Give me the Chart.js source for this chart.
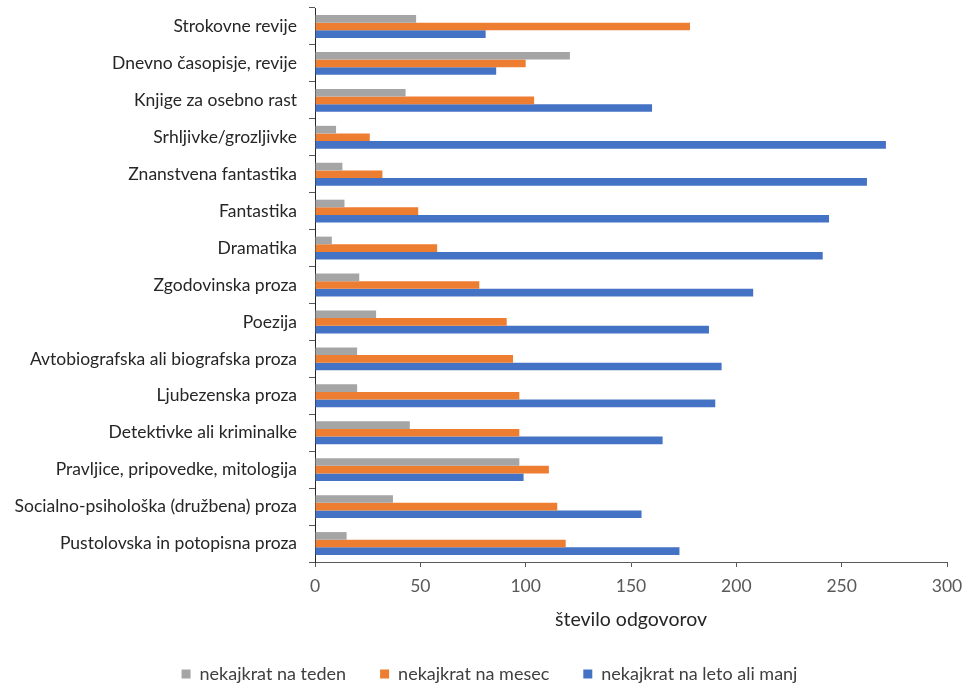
<!DOCTYPE html>
<html>
<head>
<meta charset="utf-8">
<script src="https://cdn.jsdelivr.net/npm/chart.js@4/dist/chart.umd.min.js"></script>
<style>
  html, body { margin: 0; padding: 0; background: #fff; }
  #wrap { width: 967px; height: 685px; }
</style>
</head>
<body>
<div id="wrap"><canvas id="myChart" width="967" height="685"></canvas></div>
<script>
const zvrsti = [
    "Strokovne revije",
    "Dnevno časopisje, revije",
    "Knjige za osebno rast",
    "Srhljivke/grozljivke",
    "Znanstvena fantastika",
    "Fantastika",
    "Dramatika",
    "Zgodovinska proza",
    "Poezija",
    "Avtobiografska ali biografska proza",
    "Ljubezenska proza",
    "Detektivke ali kriminalke",
    "Pravljice, pripovedke, mitologija",
    "Socialno-psihološka (družbena) proza",
    "Pustolovska in potopisna proza"
];

const naTeden = [48, 121, 43, 10, 13, 14, 8, 21, 29, 20, 20, 45, 97, 37, 15];
const naMesec = [178, 100, 104, 26, 32, 49, 58, 78, 91, 94, 97, 97, 111, 115, 119];
const naLeto = [81, 86, 160, 271, 262, 244, 241, 208, 187, 193, 190, 165, 99, 155, 173];

const xTicks = [0, 50, 100, 150, 200, 250, 300];

const font = "Lato, 'Open Sans', sans-serif";

const data = {
    labels: zvrsti,
    datasets: [
        { label: "nekajkrat na teden", data: naTeden, backgroundColor: "#A5A5A5" },
        { label: "nekajkrat na mesec", data: naMesec, backgroundColor: "#ED7D31" },
        { label: "nekajkrat na leto ali manj", data: naLeto, backgroundColor: "#4472C4" }
    ]
};

// legenda je v izvirniku malo desno od sredine
const premikLegende = {
    id: "premikLegende",
    afterLayout(chart) {
        chart.legend.left += 16;
        chart.legend.right += 16;
    }
};

const config = {
    type: "bar",
    data,
    plugins: [premikLegende],
    options: {
        indexAxis: "y",
        responsive: false,
        animation: false,
        layout: { padding: { left: 0, right: 20, top: 8, bottom: -8 } },
        datasets: {
            bar: { categoryPercentage: 0.62, barPercentage: 1.0 }
        },
        plugins: {
            tooltip: { enabled: false },
            legend: {
                position: "bottom",
                labels: {
                    color: "#404040",
                    font: { family: font, size: 18 },
                    boxWidth: 9,
                    boxHeight: 9,
                    padding: 34
                }
            }
        },
        scales: {
            x: {
                min: 0,
                max: 300,
                afterBuildTicks: (scale) => {
                    scale.ticks = xTicks.map(v => ({ value: v }));
                },
                afterFit: (scale) => {
                    scale.height = 69;
                    scale.paddingLeft = 0;
                    scale.paddingRight = 0;
                },
                grid: {
                    drawOnChartArea: false,
                    drawTicks: true,
                    tickLength: 5,
                    color: "#595959"
                },
                border: { color: "#595959", width: 1 },
                ticks: {
                    color: "#595959",
                    font: { family: font, size: 17.5 },
                    padding: 9
                },
                title: {
                    display: true,
                    text: "število odgovorov",
                    color: "#262626",
                    font: { family: font, size: 19.5 },
                    padding: { top: 6, bottom: 0 }
                }
            },
            y: {
                afterFit: (scale) => {
                    scale.width = 315;
                    scale.paddingTop = 0;
                    scale.paddingBottom = 0;
                },
                grid: {
                    offset: true,
                    drawOnChartArea: false,
                    drawTicks: true,
                    tickLength: 6,
                    color: "#595959"
                },
                border: { color: "#262626", width: 1 },
                ticks: {
                    color: "#262626",
                    font: { family: font, size: 17.5 },
                    padding: 12,
                    autoSkip: false
                }
            }
        }
    }
};

const myChart = document.getElementById("myChart");
new Chart(myChart, config);
</script>
</body>
</html>
